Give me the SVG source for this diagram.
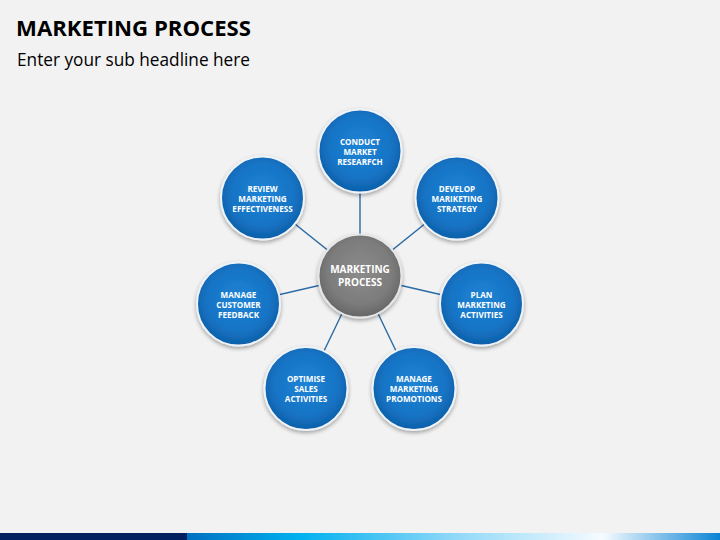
<svg xmlns="http://www.w3.org/2000/svg" width="720" height="540" viewBox="0 0 720 540">
<defs>
<radialGradient id="gBlue" cx="50%" cy="45%" r="55%">
<stop offset="0" stop-color="#1f84d6"/>
<stop offset="0.7" stop-color="#1673c4"/>
<stop offset="1" stop-color="#0d5fa8"/>
</radialGradient>
<radialGradient id="gGrey" cx="50%" cy="45%" r="55%">
<stop offset="0" stop-color="#8c8c8c"/>
<stop offset="0.7" stop-color="#7c7c7c"/>
<stop offset="1" stop-color="#666666"/>
</radialGradient>
<linearGradient id="gBar" x1="0" y1="0" x2="1" y2="0">
<stop offset="0" stop-color="#0070c0"/>
<stop offset="0.21" stop-color="#00b0f0"/>
<stop offset="0.5" stop-color="#8fd8f8"/>
<stop offset="0.78" stop-color="#f6fbff"/>
<stop offset="1" stop-color="#0a84d4"/>
</linearGradient>
<filter id="sh" x="-30%" y="-30%" width="160%" height="160%">
<feGaussianBlur in="SourceAlpha" stdDeviation="2"/>
<feOffset dx="0" dy="2" result="b"/>
<feComponentTransfer><feFuncA type="linear" slope="0.35"/></feComponentTransfer>
<feMerge><feMergeNode/><feMergeNode in="SourceGraphic"/></feMerge>
</filter>
</defs>
<style>
.blue{fill:url(#gBlue);stroke:#eef3f8;stroke-width:2;filter:url(#sh)}
.grey{fill:url(#gGrey);stroke:#e6e6e6;stroke-width:2;filter:url(#sh)}
.lbl{font-family:"Open Sans","Liberation Sans",sans-serif;font-weight:bold;font-size:8.1px;fill:#ffffff;text-anchor:middle}
.clbl{font-family:"Open Sans","Liberation Sans",sans-serif;font-weight:bold;font-size:10px;fill:#ffffff;text-anchor:middle}
.conn{stroke:#2a6aa6;stroke-width:1.4;fill:none}
</style>
<rect width="720" height="540" fill="#f2f2f2"/>
<text x="16" y="36" font-family="'Open Sans','Liberation Sans',sans-serif" font-weight="bold" font-size="21" fill="#000" textLength="235" lengthAdjust="spacingAndGlyphs">MARKETING PROCESS</text>
<text x="17" y="66" font-family="'Open Sans','Liberation Sans',sans-serif" font-size="18" fill="#000" textLength="233" lengthAdjust="spacingAndGlyphs">Enter your sub headline here</text>
<g id="connectors">
<line class="conn" x1="360" y1="276" x2="360" y2="151"/>
<line class="conn" x1="360" y1="276" x2="457" y2="198"/>
<line class="conn" x1="360" y1="276" x2="481.5" y2="304"/>
<line class="conn" x1="360" y1="276" x2="414" y2="388.5"/>
<line class="conn" x1="360" y1="276" x2="306" y2="388.5"/>
<line class="conn" x1="360" y1="276" x2="238.5" y2="304"/>
<line class="conn" x1="360" y1="276" x2="262.5" y2="198"/>
</g>
<g id="center">
<circle class="grey" cx="360" cy="276" r="41.5"/>
<text class="clbl" x="360" y="273">MARKETING</text>
<text class="clbl" x="360" y="285.5">PROCESS</text>
</g>
<g id="n1">
<circle class="blue" cx="360" cy="151" r="41.5"/>
<text class="lbl" x="360" y="144.5">CONDUCT</text>
<text class="lbl" x="360" y="154.5">MARKET</text>
<text class="lbl" x="360" y="164.5">RESEARFCH</text>
</g>
<g id="n2">
<circle class="blue" cx="457" cy="198" r="41.5"/>
<text class="lbl" x="457" y="191.5">DEVELOP</text>
<text class="lbl" x="457" y="201.5">MARIKETING</text>
<text class="lbl" x="457" y="211.5">STRATEGY</text>
</g>
<g id="n3">
<circle class="blue" cx="481.5" cy="304" r="41.5"/>
<text class="lbl" x="481.5" y="297.5">PLAN</text>
<text class="lbl" x="481.5" y="307.5">MARKETING</text>
<text class="lbl" x="481.5" y="317.5">ACTIVITIES</text>
</g>
<g id="n4">
<circle class="blue" cx="414" cy="388.5" r="41.5"/>
<text class="lbl" x="414" y="382">MANAGE</text>
<text class="lbl" x="414" y="392">MARKETING</text>
<text class="lbl" x="414" y="402">PROMOTIONS</text>
</g>
<g id="n5">
<circle class="blue" cx="306" cy="388.5" r="41.5"/>
<text class="lbl" x="306" y="382">OPTIMISE</text>
<text class="lbl" x="306" y="392">SALES</text>
<text class="lbl" x="306" y="402">ACTIVITIES</text>
</g>
<g id="n6">
<circle class="blue" cx="238.5" cy="304" r="41.5"/>
<text class="lbl" x="238.5" y="297.5">MANAGE</text>
<text class="lbl" x="238.5" y="307.5">CUSTOMER</text>
<text class="lbl" x="238.5" y="317.5">FEEDBACK</text>
</g>
<g id="n7">
<circle class="blue" cx="262.5" cy="198" r="41.5"/>
<text class="lbl" x="262.5" y="191.5">REVIEW</text>
<text class="lbl" x="262.5" y="201.5">MARKETING</text>
<text class="lbl" x="262.5" y="211.5">EFFECTIVENESS</text>
</g>
<rect x="0" y="533" width="187" height="7" fill="#002060"/>
<rect x="187" y="533" width="533" height="7" fill="url(#gBar)"/>
</svg>
